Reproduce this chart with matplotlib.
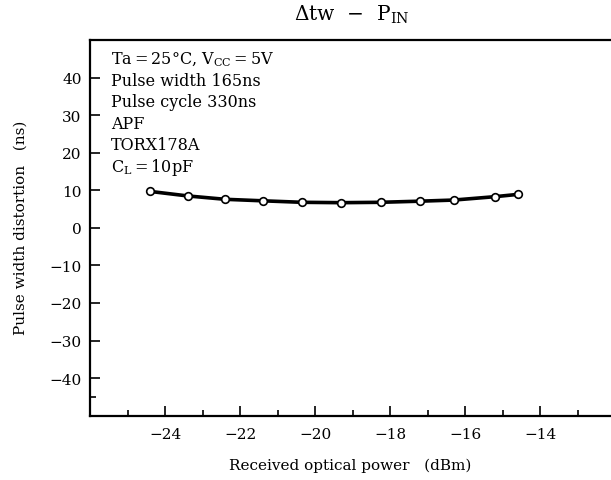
import numpy as np
import matplotlib.pyplot as plt
from matplotlib.ticker import MultipleLocator, FixedLocator

plt.rcParams['font.family'] = 'DejaVu Serif'
plt.rcParams['mathtext.fontset'] = 'dejavuserif'
plt.rcParams['axes.unicode_minus'] = True

# Datos: distorsion de ancho de pulso vs potencia optica recibida
p_in = np.array([-24.4, -23.4, -22.4, -21.4, -20.35, -19.3, -18.25, -17.2, -16.3, -15.2, -14.6])
dtw = np.array([9.7, 8.5, 7.6, 7.2, 6.8, 6.7, 6.8, 7.1, 7.4, 8.3, 8.9])

x_ticks = [-24, -22, -20, -18, -16, -14]
y_ticks = [-40, -30, -20, -10, 0, 10, 20, 30, 40]

condiciones = ['Ta$=$25°C, V$_{\\mathrm{CC}}$$=$5V',
               'Pulse width 165ns',
               'Pulse cycle 330ns',
               'APF',
               'TORX178A',
               'C$_{\\mathrm{L}}$$=$10pF']

fig = plt.figure(figsize=(6.11, 4.81), dpi=100)
ax = fig.add_axes([90/611, 1 - 416.7/481, 1 - 90/611, (416.7 - 41)/481])

ax.plot(p_in, dtw, color='black', linewidth=2.6, marker='o', markersize=5.5,
        markerfacecolor='white', markeredgecolor='black', markeredgewidth=1.2, zorder=3)

ax.set_xlim(-26, -12.11)
ax.set_ylim(-50, 50)
ax.xaxis.set_major_locator(FixedLocator(x_ticks))
ax.xaxis.set_minor_locator(MultipleLocator(1))
ax.yaxis.set_major_locator(FixedLocator(y_ticks))
ax.yaxis.set_minor_locator(FixedLocator([-45]))

ax.spines['right'].set_visible(False)
for s in ['left', 'bottom', 'top']:
    ax.spines[s].set_linewidth(1.6)

ax.tick_params(which='both', direction='in', top=False, right=False, labelsize=11, width=1.2)
ax.tick_params(which='major', length=7)
ax.tick_params(which='minor', length=4)
ax.tick_params(axis='x', pad=8)
ax.tick_params(axis='y', pad=6)

# texto de condiciones
for i, t in enumerate(condiciones):
    fig.text(111/611, 1 - (60 + i*21.4)/481, t, fontsize=11.5, va='center', ha='left')

fig.text(352/611, 1 - 15/481, '$\\mathit{\\Delta}$tw  −  P$_{\\mathrm{IN}}$', fontsize=14.5,
         ha='center', va='center')
fig.text(350/611, 1 - 466/481, 'Received optical power   (dBm)', fontsize=11,
         ha='center', va='center')
fig.text(21/611, 1 - 228/481, 'Pulse width distortion   (ns)', fontsize=11,
         ha='center', va='center', rotation=90)

plt.savefig('out.png', dpi=100)
